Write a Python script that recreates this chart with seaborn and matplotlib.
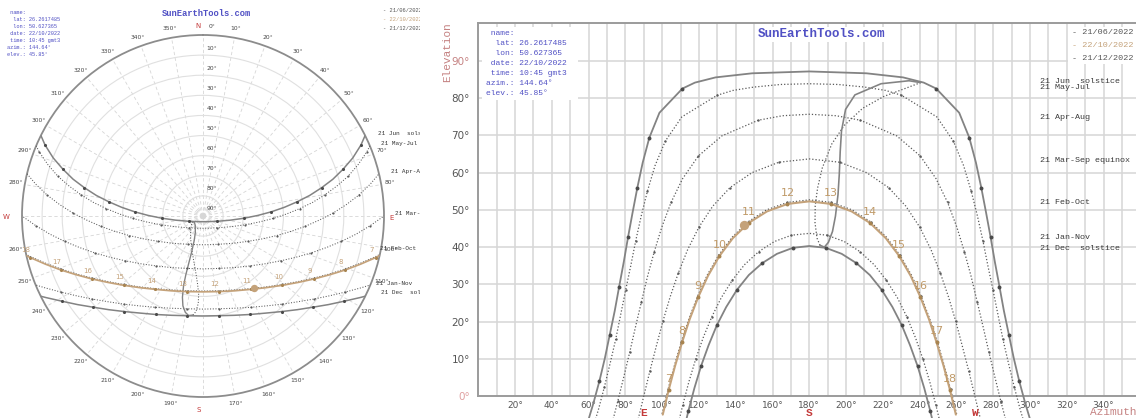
import numpy as np
import matplotlib
matplotlib.use("Agg")
import matplotlib.pyplot as plt
from matplotlib.patches import Rectangle
from matplotlib.transforms import Affine2D
import seaborn as sns

# ---- sun paths for lat 26.2617485 / lon 50.627365 ----
# clock time of each sample, azimuth (deg from north), elevation (deg)
t_long = [5.0, 5.5, 6.0, 6.5, 7.0, 7.5, 8.0, 8.5, 9.0, 9.5, 10.0, 10.5, 11.0, 11.5, 12.0,
          12.125, 12.25, 12.375, 12.5, 12.625, 12.75, 12.875, 13.0, 13.5, 14.0, 14.5, 15.0,
          15.5, 16.0, 16.5, 17.0, 17.5, 18.0, 18.5, 19.0, 19.5, 20.0]
t_apr = [5.5, 6.0, 6.5, 7.0, 7.5, 8.0, 8.5, 9.0, 9.5, 10.0, 10.5, 11.0, 11.5, 12.0, 12.25,
         12.5, 12.75, 13.0, 13.5, 14.0, 14.5, 15.0, 15.5, 16.0, 16.5, 17.0, 17.5, 18.0,
         18.5, 19.0, 19.5]
t_mar = [6.0, 6.5, 7.0, 7.5, 8.0, 8.5, 9.0, 9.5, 10.0, 10.5, 11.0, 11.5, 12.0, 12.5, 13.0,
         13.5, 14.0, 14.5, 15.0, 15.5, 16.0, 16.5, 17.0, 17.5, 18.0, 18.5, 19.0]
t_short = [6.5, 7.0, 7.5, 8.0, 8.5, 9.0, 9.5, 10.0, 10.5, 11.0, 11.5, 12.0, 12.5, 13.0,
           13.5, 14.0, 14.5, 15.0, 15.5, 16.0, 16.5, 17.0, 17.5, 18.0, 18.5]

jun_az = [58.9, 62.5, 65.8, 68.8, 71.5, 74.2, 76.6, 79.1, 81.4, 83.9, 86.5, 89.4, 93.0, 98.5,
          111.0, 117.8, 129.0, 148.9, 180.0, 211.1, 231.0, 242.2, 249.0, 261.5, 267.0, 270.6,
          273.5, 276.1, 278.6, 280.9, 283.4, 285.8, 288.5, 291.2, 294.2, 297.5, 301.1]
jun_el = [-8.0, -2.1, 3.9, 10.1, 16.5, 22.9, 29.4, 36.0, 42.6, 49.3, 56.0, 62.7, 69.4, 76.1,
          82.6, 84.2, 85.6, 86.7, 87.2, 86.7, 85.6, 84.2, 82.6, 76.1, 69.4, 62.7, 56.0, 49.3,
          42.6, 36.0, 29.4, 22.9, 16.5, 10.1, 3.9, -2.1, -8.0]
may_az = [61.6, 65.3, 68.6, 71.7, 74.7, 77.4, 80.1, 82.9, 85.6, 88.6, 92.0, 96.1, 101.7, 110.7,
          129.9, 138.5, 149.9, 164.4, 180.0, 195.6, 210.1, 221.5, 230.1, 249.3, 258.3, 263.9,
          268.0, 271.4, 274.4, 277.1, 279.9, 282.6, 285.3, 288.3, 291.4, 294.7, 298.4]
may_el = [-9.8, -3.7, 2.5, 8.8, 15.2, 21.8, 28.4, 35.0, 41.7, 48.4, 55.1, 61.9, 68.5, 75.0,
          80.8, 82.1, 83.0, 83.7, 83.9, 83.7, 83.0, 82.1, 80.8, 75.0, 68.5, 61.9, 55.1, 48.4,
          41.7, 35.0, 28.4, 21.8, 15.2, 8.8, 2.5, -3.7, -9.8]
apr_az = [72.5, 75.9, 79.2, 82.4, 85.5, 88.7, 92.0, 95.7, 99.8, 104.8, 111.1, 119.7, 132.5,
          152.3, 165.4, 180.0, 194.6, 207.7, 227.5, 240.3, 248.9, 255.2, 260.2, 264.3, 268.0,
          271.3, 274.5, 277.6, 280.8, 284.1, 287.5]
apr_el = [-7.8, -1.3, 5.3, 11.9, 18.6, 25.3, 32.1, 38.8, 45.4, 52.0, 58.4, 64.5, 69.9, 74.1,
          75.3, 75.7, 75.3, 74.1, 69.9, 64.5, 58.4, 52.0, 45.4, 38.8, 32.1, 25.3, 18.6, 11.9,
          5.3, -1.3, -7.8]
mar_az = [86.7, 90.0, 93.3, 96.8, 100.4, 104.3, 108.8, 113.9, 120.0, 127.5, 136.9, 148.8, 163.4,
          180.0, 196.6, 211.2, 223.1, 232.5, 240.0, 246.1, 251.2, 255.7, 259.6, 263.2, 266.7,
          270.0, 273.3]
mar_el = [-6.7, 0.0, 6.7, 13.4, 20.1, 26.6, 33.1, 39.4, 45.4, 51.0, 56.0, 60.0, 62.8, 63.7,
          62.8, 60.0, 56.0, 51.0, 45.4, 39.4, 33.1, 26.6, 20.1, 13.4, 6.7, 0.0, -6.7]
feb_az = [99.9, 103.2, 106.7, 110.4, 114.6, 119.2, 124.6, 130.8, 138.1, 146.7, 156.7, 168.0,
          180.0, 192.0, 203.3, 213.3, 221.9, 229.2, 235.4, 240.8, 245.4, 249.6, 253.3, 256.8,
          260.1]
feb_el = [-4.8, 1.8, 8.3, 14.6, 20.8, 26.8, 32.6, 37.9, 42.7, 46.8, 50.0, 52.0, 52.7, 52.0,
          50.0, 46.8, 42.7, 37.9, 32.6, 26.8, 20.8, 14.6, 8.3, 1.8, -4.8]
jan_az = [108.1, 111.2, 114.5, 118.2, 122.3, 126.9, 132.1, 138.1, 144.8, 152.5, 161.0, 170.3,
          180.0, 189.7, 199.0, 207.5, 215.2, 221.9, 227.9, 233.1, 237.7, 241.8, 245.5, 248.8,
          251.9]
jan_el = [-8.7, -2.4, 3.8, 9.9, 15.7, 21.2, 26.4, 31.1, 35.3, 38.8, 41.5, 43.2, 43.7, 43.2,
          41.5, 38.8, 35.3, 31.1, 26.4, 21.2, 15.7, 9.9, 3.8, -2.4, -8.7]
dec_az = [111.3, 114.3, 117.5, 121.1, 125.2, 129.7, 134.8, 140.6, 147.1, 154.4, 162.4, 171.0,
          180.0, 189.0, 197.6, 205.6, 212.9, 219.4, 225.2, 230.3, 234.8, 238.9, 242.5, 245.7,
          248.7]
dec_el = [-10.1, -3.9, 2.1, 8.0, 13.6, 19.0, 23.9, 28.5, 32.5, 35.7, 38.2, 39.8, 40.3, 39.8,
          38.2, 35.7, 32.5, 28.5, 23.9, 19.0, 13.6, 8.0, 2.1, -3.9, -10.1]
# 22/10/2022
oct_az = [100.3, 103.5, 107.0, 110.8, 114.9, 119.6, 124.9, 131.1, 138.4, 147.0, 157.0, 168.1,
          180.0, 191.9, 203.0, 213.0, 221.6, 228.9, 235.1, 240.4, 245.1, 249.2, 253.0, 256.5,
          259.7]
oct_el = [-5.0, 1.6, 8.1, 14.4, 20.6, 26.6, 32.3, 37.6, 42.4, 46.5, 49.6, 51.6, 52.3, 51.6,
          49.6, 46.5, 42.4, 37.6, 32.3, 26.6, 20.6, 14.4, 8.1, 1.6, -5.0]

# analemma at 13:00, 1st and 15th of each month (Jan 1 ... Dec 15)
ana_az = [185.8, 184.2, 183.1, 183.2, 184.5, 187.0, 192.2, 199.0, 209.0, 220.6, 234.1, 240.5,
          234.2, 219.0, 204.8, 199.7, 197.5, 196.8, 196.3, 195.6, 194.2, 192.6, 190.4, 188.2]
ana_el = [40.5, 42.4, 46.5, 51.1, 55.9, 61.2, 67.7, 72.7, 77.3, 80.5, 83.0, 84.2,
          84.7, 83.9, 80.9, 77.0, 71.2, 65.7, 59.6, 54.1, 48.3, 44.2, 41.3, 40.0]

sun_az, sun_el = 144.64, 45.85

path_labels = ["21 Jun  solstice", "21 May-Jul", "21 Apr-Aug", "21 Mar-Sep equinox",
               "21 Feb-Oct", "21 Jan-Nov", "21 Dec  solstice"]
legend_dates = ["21/06/2022", "22/10/2022", "21/12/2022"]
info_lines = [" name:", "  lat: 26.2617485", "  lon: 50.627365", " date: 22/10/2022",
              " time: 10:45 gmt3", "azim.: 144.64°", "elev.: 45.85°"]
site = "SunEarthTools.com"

paths = [
    (path_labels[0], t_long, jun_az, jun_el, True),
    (path_labels[1], t_long, may_az, may_el, False),
    (path_labels[2], t_apr, apr_az, apr_el, False),
    (path_labels[3], t_mar, mar_az, mar_el, False),
    (path_labels[4], t_short, feb_az, feb_el, False),
    (path_labels[5], t_short, jan_az, jan_el, False),
    (path_labels[6], t_short, dec_az, dec_el, True),
]

sns.set_style("white")
plt.rcParams["font.family"] = ["DejaVu Sans"]
MONO = "Liberation Mono"
GREY = "#838383"
DOTC = "#5a5a5a"
TAN = "#c4a27a"
BLUE = "#5050c4"
RED = "#c43a3a"
ROSE = "#c58282"
DOTTED = (0, (1, 1.6))

W, H = 1136, 418
fig = plt.figure(figsize=(W / 100, H / 100), dpi=100)
px = Affine2D().scale(1 / W, -1 / H).translate(0, 1) + fig.transFigure


def line(ax, x, y, **kw):
    sns.lineplot(x=x, y=y, ax=ax, sort=False, estimator=None, errorbar=None, legend=False, **kw)


def dots(ax, x, y, **kw):
    sns.scatterplot(x=x, y=y, ax=ax, linewidth=0, legend=False, **kw)


def draw_paths(ax, polar, lw_solid, lw_dot, ms_solid, ms_dot, ms_sun):
    def xy(az, el):
        az, el = np.asarray(az, float), np.asarray(el, float)
        return (np.radians(az), 90 - el) if polar else (az, el)

    for name, t, az, el, solid in paths:
        x, y = xy(az, el)
        on_hour = np.asarray(t) % 1 == 0
        if solid:
            line(ax, x, y, color=GREY, linewidth=lw_solid, zorder=3)
            dots(ax, x[on_hour], y[on_hour], color="#4a4a4a", s=ms_solid, zorder=4)
        else:
            line(ax, x, y, color=DOTC, linewidth=lw_dot, linestyle=DOTTED, zorder=3)
            dots(ax, x[on_hour], y[on_hour], color=DOTC, s=ms_dot, zorder=4)

    # analemma: first half of the year dotted, second half solid
    x, y = xy(ana_az, ana_el)
    half = len(ana_az) // 2
    line(ax, x[:half], y[:half], color=DOTC, linewidth=lw_dot, linestyle=DOTTED, zorder=3)
    line(ax, np.append(x[half - 1:], x[0]), np.append(y[half - 1:], y[0]),
         color=GREY, linewidth=lw_solid * 0.9, zorder=3)

    # 22/10/2022 path
    x, y = xy(oct_az, oct_el)
    line(ax, x, y, color=TAN, linewidth=lw_solid * 1.15, zorder=5)
    on_hour = np.asarray(t_short) % 1 == 0
    dots(ax, x[on_hour], y[on_hour], color="#a88450", s=ms_solid, zorder=6)
    sx, sy = xy([sun_az], [sun_el])
    dots(ax, sx, sy, color=TAN, s=ms_sun, zorder=7)
    return x[on_hour], y[on_hour], np.asarray(t_short)[on_hour]


# ================= left: polar sun path =================
cx, cy, R = 203, 216, 181
axp = fig.add_axes([(cx - R) / W, (H - cy - R) / H, 2 * R / W, 2 * R / H], projection="polar")
axp.set_theta_zero_location("N")
axp.set_theta_direction(-1)

hx, hy, ht = draw_paths(axp, True, 1.1, 0.75, 5, 2.5, 28)

axp.set_ylim(0, 90)
axp.set_xticks(np.radians(np.arange(0, 360, 10)))
axp.set_xticks(np.radians(np.arange(0, 360, 1)), minor=True)
axp.set_xticklabels([])
axp.set_yticks(np.arange(10, 90, 10))
axp.set_yticklabels([])
axp.set_xlabel("")
axp.set_ylabel("")
axp.xaxis.grid(True, color="#d6d6d6", linestyle=(0, (4, 3)), linewidth=0.6)
axp.yaxis.grid(True, color="#e0e0e0", linestyle="-", linewidth=0.8)
axp.tick_params(axis="x", which="major", length=5, width=0.8, color="#707070", direction="inout")
axp.tick_params(axis="x", which="minor", length=2.5, width=0.5, color="#888888", direction="inout")
axp.tick_params(axis="y", length=0)
axp.spines["polar"].set_color("#8c8c8c")
axp.spines["polar"].set_linewidth(1.3)

for a in range(10, 360, 10):
    if a % 90:
        axp.text(np.radians(a), 94.5, f"{a}°", ha="center", va="center",
                 fontsize=4.3, color="#454545")
axp.annotate("0°", xy=(0, 90), xytext=(9, 8), textcoords="offset pixels",
             ha="center", va="center", fontsize=4.3, color="#454545")
for letter, a, off in [("N", 0, (-5, 9)), ("E", 90, (8, -2)), ("S", 180, (-4, -13)),
                       ("W", 270, (-16, -1))]:
    axp.annotate(letter, xy=(np.radians(a), 90), xytext=off, textcoords="offset pixels",
                 ha="center", va="center", fontsize=5, color=RED)
for e in range(10, 100, 10):
    axp.annotate(f"{e}°", xy=(0, 90 - e), xytext=(9, 7), textcoords="offset pixels",
                 ha="center", va="center", fontsize=4.3, color="#454545")
for x, y, t in zip(hx, hy, ht):
    axp.annotate(str(int(t)), xy=(x, y), xytext=(-4, 8), textcoords="offset pixels",
                 ha="center", va="center", fontsize=5, color=TAN)

polar_label_off = [(13, 2), (11, 3), (12, 2), (11, 3), (0, 6), (6, 2), (16, 4)]
for (name, t, az, el, solid), off in zip(paths, polar_label_off):
    k = int(np.argmax(el)) + 1
    rise = np.interp(0, el[:k], az[:k])
    axp.annotate(name, xy=(np.radians(rise), 90), xytext=off, textcoords="offset pixels",
                 ha="left", va="center", fontsize=4.3, family=MONO, color="#333333")

axp.text(206, 13, site, transform=px, ha="center", va="center", fontsize=6.3,
         family=MONO, weight="bold", color=BLUE)
for i, s in enumerate(info_lines):
    axp.text(7, 12.7 + i * 6.9, s, transform=px, ha="left", va="center",
             fontsize=3.8, family=MONO, color=BLUE)
for i, (s, c) in enumerate(zip(legend_dates, ["#555555", TAN, "#555555"])):
    axp.text(383, 11 + i * 8.5, "- " + s, transform=px, ha="left", va="center",
             fontsize=3.9, family=MONO, color=c)

# ================= right: elevation vs azimuth =================
axr = fig.add_axes([420 / W, 0, (W - 420) / W, 1])
x0, y0, kx, ky = 478.3, 396.0, 1.839, 3.722
top = 100.3

hx, hy, ht = draw_paths(axr, False, 1.3, 0.9, 8, 3, 45)
for x, y, t in zip(hx, hy, ht):
    axr.annotate(str(int(t)), xy=(x, y), xytext=(0, 11), textcoords="offset pixels",
                 ha="center", va="center", fontsize=8, color="#c09a68", zorder=8)

axr.vlines(np.arange(10, 360, 10), 0, top, color="#d6d6d6", linewidth=1.1, zorder=1)
axr.hlines(np.arange(10, 100, 10), 0, 360, color="#d6d6d6", linewidth=1.1, zorder=1)

axr.set_xlim((420 - x0) / kx, (W - x0) / kx)
axr.set_ylim((y0 - H) / ky, y0 / ky)
axr.set_xlabel("")
axr.set_ylabel("")
for s in ("left", "bottom", "top"):
    axr.spines[s].set_color("#9b9b9b")
    axr.spines[s].set_linewidth(1.4)
axr.spines["left"].set_position(("data", 0))
axr.spines["left"].set_bounds(0, top)
axr.spines["bottom"].set_position(("data", 0))
axr.spines["bottom"].set_bounds(0, 360)
axr.spines["top"].set_position(("data", top))
axr.spines["top"].set_bounds(0, 360)
axr.spines["right"].set_visible(False)

axr.set_xticks(np.arange(20, 360, 20))
axr.set_xticklabels([f"{v}°" for v in range(20, 360, 20)])
axr.set_xticks(np.arange(10, 360, 10), minor=True)
axr.tick_params(axis="x", which="both", direction="out", length=3, width=1,
                color="#b5b5b5", labelsize=6.5, labelcolor="#555555", pad=0.5)
axr.set_yticks(np.arange(0, 100, 10))
axr.set_yticklabels([f"{v}°" for v in range(0, 100, 10)])
axr.tick_params(axis="y", length=0, labelsize=7.5, labelcolor="#555555", pad=6)
ylabels = axr.get_yticklabels()
ylabels[0].set_color("#e0a0a0")
ylabels[-1].set_color(ROSE)

label_dy = [-10, -4, -3, -2, -3, -4, -2]
for (name, t, az, el, solid), dy in zip(paths, label_dy):
    axr.annotate(name, xy=((1040 - x0) / kx, max(el)), xytext=(0, dy),
                 textcoords="offset pixels", ha="left", va="center",
                 fontsize=6, family=MONO, color="#3a3a3a", zorder=8)

axr.text(447, 52, "Elevation", transform=px, rotation=90, ha="center", va="center",
         fontsize=8, family=MONO, color=ROSE)
axr.text(1090, 412, "Azimuth", transform=px, ha="left", va="center",
         fontsize=8, family=MONO, color=ROSE)
for letter, a in [("E", 90), ("S", 180), ("W", 270)]:
    axr.text(x0 + a * kx, 412.5, letter, transform=px, ha="center", va="center",
             fontsize=8, family=MONO, weight="bold", color=RED)

for (bx, by, bw, bh) in [(482, 27, 96, 73), (755, 27, 138, 15), (1068, 27, 68, 37)]:
    axr.add_patch(Rectangle((bx, by), bw, bh, transform=px, facecolor="white",
                            edgecolor="none", zorder=9))
for i, s in enumerate(info_lines):
    axr.text(486, 33.3 + i * 10, s, transform=px, ha="left", va="center",
             fontsize=5.8, family=MONO, color=BLUE, zorder=10)
axr.text(822, 34, site, transform=px, ha="center", va="center", fontsize=9,
         family=MONO, weight="bold", color=BLUE, zorder=10)
for i, (s, c) in enumerate(zip(legend_dates, ["#555555", TAN, "#555555"])):
    axr.text(1072, 33 + i * 12.5, "- " + s, transform=px, ha="left", va="center",
             fontsize=6.1, family=MONO, color=c, zorder=10)

fig.savefig("out.png", dpi=100)
